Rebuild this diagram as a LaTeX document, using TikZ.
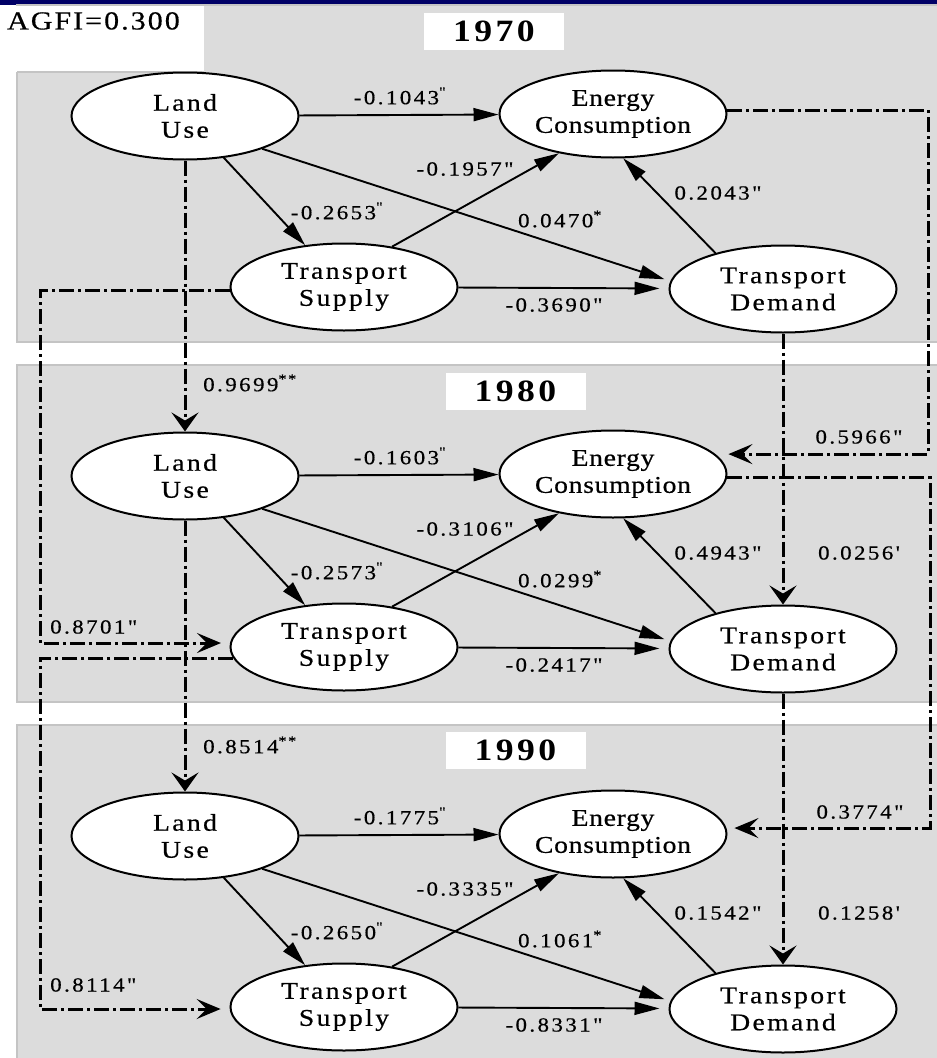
\documentclass[tikz,border=0pt]{standalone}
\usepackage{fontspec}
\setmainfont{Liberation Serif}
\newfontfamily\nodefont[FakeStretch=1.15, FakeBold=0.6, LetterSpace=10]{Liberation Serif}
\newfontfamily\ecfont[FakeStretch=1.15, FakeBold=0.6, LetterSpace=3]{Liberation Serif}
\newfontfamily\labfont[FakeStretch=1.15, FakeBold=0.5, LetterSpace=12]{Liberation Serif}
\newfontfamily\fitfont[FakeStretch=1.15, FakeBold=0.5, LetterSpace=8]{Liberation Serif}
\newfontfamily\yearfont[FakeStretch=1.15, LetterSpace=11]{Liberation Serif}
\usepackage{tikz}
\usetikzlibrary{shapes.geometric}
\usetikzlibrary{arrows.meta}
\usepackage{xcolor}

\definecolor{panelgray}{RGB}{220,220,220}
\definecolor{paneledge}{RGB}{196,196,196}
\definecolor{barnavy}{RGB}{0,0,102}

\newcommand{\supq}{\textsuperscript{"}}
\newcommand{\supst}{\textsuperscript{*}}

\begin{document}
\begin{tikzpicture}[
  x=1pt, y=-1pt,
  var/.style={ellipse, draw, line width=2pt, fill=white, minimum width=227pt,
    minimum height=87pt, inner sep=0pt, align=center,
    font=\nodefont\fontsize{24}{27}\selectfont},
  ecvar/.style={var, font=\ecfont\fontsize{24}{27}\selectfont},
  effect/.style={line width=1.9pt, -{Triangle[length=25pt,width=13pt]}},
  lag/.style={line width=3pt, dash pattern=on 15pt off 4pt on 3pt off 4pt},
  lagv/.style={lag, -{Stealth[length=19pt,width=27pt,inset=8pt]}},
  lagh/.style={lag, -{Stealth[length=24pt,width=20pt,inset=10pt]}},
  coef/.style={font=\labfont\fontsize{20}{22}\selectfont, inner sep=0pt},
  panel/.style={fill=panelgray, draw=paneledge, line width=1.5pt},
  yearbox/.style={fill=white, inner sep=0pt, minimum width=140pt, minimum height=37pt,
    font=\yearfont\bfseries\fontsize{31}{33}\selectfont}
]
\clip (0,0) rectangle (937,1058);

% Background panels, one per year
\fill[barnavy] (0,0) rectangle (937,4.5);
\foreach \dy in {0,360,720}
  \draw[panel] (17,5+\dy) rectangle (950,342+\dy);
\fill[white] (-5,5.8) rectangle (204,72);
\draw[paneledge, line width=1.5pt] (17,72) -- (204,72);
\node[anchor=east, inner sep=0pt, font=\fitfont\fontsize{26}{28}\selectfont] (agfi) at (180,21) {AGFI=0.300};

% Year boxes
\node[yearbox] (yr1) at (494,31.5) {1970};
\node[yearbox] (yr2) at (515.5,391) {1980};
\node[yearbox] (yr3) at (515.5,750.5) {1990};

% Latent variables
\foreach \p/\dy in {1/0,2/360,3/720} {
  \node[var] (LU\p) at (185,116+\dy) {Land\\Use};
  \node[ecvar] (EC\p) at (613,114+\dy) {Energy\\Consumption};
  \node[var] (TS\p) at (344,287+\dy) {Transport\\Supply};
  \node[var] (TD\p) at (783,289+\dy) {Transport\\Demand};
}

% Paths within each year
\foreach \p in {1,2,3} {
  \draw[effect] (LU\p) -- (EC\p);
  \draw[effect] (LU\p) -- (TS\p);
  \draw[effect, shorten >=6pt] (LU\p.-23) -- (TD\p.176);
  \draw[effect] (TS\p.40) -- (EC\p.216);
  \draw[effect] (TD\p.152) -- (EC\p.283);
  \draw[effect, shorten >=9pt] (TS\p) -- (TD\p);
}

% Coefficients within each year
\foreach \dy/\la/\lb/\lc/\ld/\le/\lf in {
    0/-0.1043\supq/-0.2653\supq/-0.1957"/0.0470\supst/0.2043"/-0.3690",
    360/-0.1603\supq/-0.2573\supq/-0.3106"/0.0299\supst/0.4943"/-0.2417",
    720/-0.1775\supq/-0.2650\supq/-0.3335"/0.1061\supst/0.1542"/-0.8331"} {
  \node[coef] at (400,96+\dy) {\la};
  \node[coef] at (337,211+\dy) {\lb};
  \node[coef] at (465,169+\dy) {\lc};
  \node[coef] at (560,219+\dy) {\ld};
  \node[coef] at (718,193+\dy) {\le};
  \node[coef] at (554,305+\dy) {\lf};
}

% Lagged effects between years
\coordinate (L) at (40,0);
\coordinate (R1) at (928,0);
\coordinate (R2) at (930,0);
\draw[lagv] (LU1) -- (LU2);
\draw[lagv] (LU2) -- (LU3);
\draw[lagv] (TD1) -- (TD2);
\draw[lagv] (TD2) -- (TD3);
\draw[lagh, shorten >=9pt] (TS1.-178) -- (TS1.-178 -| L) |- (TS2.178);
\draw[lagh, shorten >=9pt] (TS2.-174) -- (TS2.-174 -| L) |- (TS3.-179);
\draw[lagh, shorten >=13pt] (EC1.2) -- (EC1.2 -| R1) |- (EC2.11);
\draw[lagh, shorten >=8pt] (EC2.-2) -- (EC2.-2 -| R2) |- (EC3.3);

\node[coef, anchor=west] at (203,383) {0.9699\textsuperscript{**}};
\node[coef, anchor=west] at (203,745) {0.8514\textsuperscript{**}};
\node[coef, anchor=west] at (50,627) {0.8701"};
\node[coef, anchor=west] at (50,985) {0.8114"};
\node[coef] at (859,437) {0.5966"};
\node[coef] at (860,812) {0.3774"};
\node[coef] at (859,553) {0.0256'};
\node[coef] at (859,913) {0.1258'};

\end{tikzpicture}
\end{document}
